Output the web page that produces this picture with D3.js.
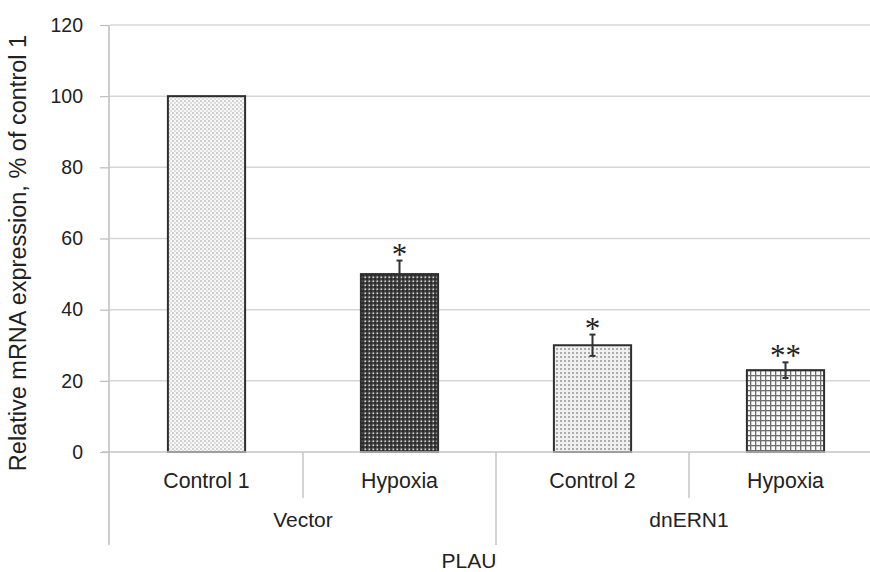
<!DOCTYPE html>
<html>
<head>
<meta charset="utf-8">
<script src="https://cdn.jsdelivr.net/npm/d3@7"></script>
<style>
  body { margin: 0; background: #fff; }
  svg { display: block; font-family: "Liberation Sans", Arial, sans-serif; }
</style>
</head>
<body>
<svg id="chart" width="870" height="572"></svg>
<script>
// data
const categories = ['Control 1', 'Hypoxia', 'Control 2', 'Hypoxia'];
const groups = ['Vector', 'dnERN1'];
const values = [100, 50, 30, 23];
const errors = [0, 3.8, 3, 2.2];
const marks = ['', '*', '*', '**'];
const yTicks = [0, 20, 40, 60, 80, 100, 120];

const svg = d3.select('#chart');

// plot frame (right end runs past the window, as in the original)
const plotLeft = 110, plotRight = 882, plotTop = 25, plotBottom = 452;

const y = d3.scaleLinear().domain([0, 120]).range([plotBottom, plotTop]);
const x = d3.scaleBand()
    .domain(d3.range(categories.length))
    .range([plotLeft, plotRight])
    .paddingInner(0.6)
    .paddingOuter(0.3);
const edge = d3.scaleLinear().domain([0, categories.length]).range([plotLeft, plotRight]);

// fill patterns
const defs = svg.append('defs');

let p = defs.append('pattern').attr('id', 'pat0')
    .attr('width', 4).attr('height', 4).attr('patternUnits', 'userSpaceOnUse');
p.append('rect').attr('width', 4).attr('height', 4).attr('fill', '#f7f7f7');
p.append('rect').attr('width', 2).attr('height', 2).attr('fill', '#cfcfcf');
p.append('rect').attr('x', 2).attr('y', 2).attr('width', 2).attr('height', 2).attr('fill', '#dedede');

p = defs.append('pattern').attr('id', 'pat1')
    .attr('width', 4).attr('height', 4).attr('patternUnits', 'userSpaceOnUse');
p.append('rect').attr('width', 4).attr('height', 4).attr('fill', '#3e3e3e');
p.append('rect').attr('x', 0.5).attr('y', 0.5).attr('width', 1.6).attr('height', 1.6).attr('fill', '#d8d8d8');
p.append('rect').attr('x', 2).attr('y', 2).attr('width', 2).attr('height', 2).attr('fill', '#2a2a2a');

p = defs.append('pattern').attr('id', 'pat2')
    .attr('width', 4).attr('height', 4).attr('patternUnits', 'userSpaceOnUse');
p.append('rect').attr('width', 4).attr('height', 4).attr('fill', '#f0f0f0');
p.append('rect').attr('width', 2).attr('height', 2).attr('fill', '#ababab');

p = defs.append('pattern').attr('id', 'pat3')
    .attr('width', 5).attr('height', 5).attr('patternUnits', 'userSpaceOnUse');
p.append('rect').attr('width', 5).attr('height', 5).attr('fill', '#fafafa');
p.append('rect').attr('width', 5).attr('height', 1.3).attr('fill', '#6e6e6e');
p.append('rect').attr('width', 1.3).attr('height', 5).attr('fill', '#6e6e6e');

// gridlines
svg.append('g')
    .selectAll('line')
    .data(yTicks.filter(d => d > 0))
    .join('line')
    .attr('x1', plotLeft).attr('x2', plotRight)
    .attr('y1', d => y(d)).attr('y2', d => y(d))
    .attr('stroke', '#d6d6d6')
    .attr('stroke-width', 1.5);

// y axis
const yAxis = svg.append('g')
    .attr('transform', `translate(${plotLeft - 1},0)`)
    .call(d3.axisLeft(y).tickValues(yTicks).tickSize(9).tickPadding(17));
yAxis.select('.domain').remove();
yAxis.selectAll('.tick line').attr('stroke', '#bdbdbd').attr('stroke-width', 1.2);
yAxis.selectAll('.tick text')
    .attr('fill', '#222')
    .style('font-size', '19.5px')
    .style('font-family', '"Liberation Sans", Arial, sans-serif');

svg.append('line')
    .attr('x1', plotLeft - 1).attr('x2', plotLeft - 1)
    .attr('y1', y(120)).attr('y2', 545)
    .attr('stroke', '#bdbdbd').attr('stroke-width', 1.5);

// bars
svg.append('g')
    .selectAll('rect')
    .data(values)
    .join('rect')
    .attr('x', (d, i) => x(i))
    .attr('y', d => y(d))
    .attr('width', x.bandwidth())
    .attr('height', d => y(0) - y(d))
    .attr('fill', (d, i) => `url(#pat${i})`)
    .attr('stroke', '#2e2e2e')
    .attr('stroke-width', 2);

// x axis line and category separators
svg.append('line')
    .attr('x1', plotLeft - 8).attr('x2', plotRight)
    .attr('y1', y(0)).attr('y2', y(0))
    .attr('stroke', '#c4c4c4').attr('stroke-width', 1.5);

svg.append('g')
    .selectAll('line')
    .data(d3.range(1, categories.length))
    .join('line')
    .attr('x1', d => edge(d)).attr('x2', d => edge(d))
    .attr('y1', y(0))
    .attr('y2', d => d % 2 === 0 ? 545 : 498)
    .attr('stroke', '#c4c4c4').attr('stroke-width', 1.5);

// error bars
const eb = svg.append('g')
    .selectAll('g')
    .data(values.map((v, i) => ({ v, e: errors[i], i })).filter(d => d.e > 0))
    .join('g')
    .attr('stroke', '#333').attr('stroke-width', 2);
eb.append('line')
    .attr('x1', d => x(d.i) + x.bandwidth() / 2).attr('x2', d => x(d.i) + x.bandwidth() / 2)
    .attr('y1', d => y(d.v + d.e)).attr('y2', d => y(d.v - d.e));
eb.append('line')
    .attr('x1', d => x(d.i) + x.bandwidth() / 2 - 3).attr('x2', d => x(d.i) + x.bandwidth() / 2 + 3)
    .attr('y1', d => y(d.v + d.e)).attr('y2', d => y(d.v + d.e));
eb.append('line')
    .attr('x1', d => x(d.i) + x.bandwidth() / 2 - 3).attr('x2', d => x(d.i) + x.bandwidth() / 2 + 3)
    .attr('y1', d => y(d.v - d.e)).attr('y2', d => y(d.v - d.e));

// significance marks
svg.append('g')
    .selectAll('text')
    .data(values.map((v, i) => ({ v, e: errors[i], m: marks[i], i })).filter(d => d.m))
    .join('text')
    .attr('x', d => x(d.i) + x.bandwidth() / 2)
    .attr('y', d => y(d.v + d.e) + 4)
    .attr('text-anchor', 'middle')
    .attr('fill', '#222')
    .style('font-size', '31px')
    .style('font-family', '"Liberation Serif", serif')
    .text(d => d.m);

// category labels
svg.append('g')
    .selectAll('text')
    .data(categories)
    .join('text')
    .attr('x', (d, i) => x(i) + x.bandwidth() / 2)
    .attr('y', 488)
    .attr('text-anchor', 'middle')
    .attr('fill', '#222')
    .style('font-size', '21.3px')
    .text(d => d);

// group labels
svg.append('g')
    .selectAll('text')
    .data(groups)
    .join('text')
    .attr('x', (d, g) => (edge(g * 2) + edge(g * 2 + 2)) / 2)
    .attr('y', 527)
    .attr('text-anchor', 'middle')
    .attr('fill', '#222')
    .style('font-size', '21px')
    .text(d => d);

// axis titles
svg.append('text')
    .attr('x', 469).attr('y', 568)
    .attr('text-anchor', 'middle')
    .attr('fill', '#222')
    .style('font-size', '21px')
    .text('PLAU');

svg.append('text')
    .attr('transform', 'translate(26,253) rotate(-90)')
    .attr('text-anchor', 'middle')
    .attr('fill', '#222')
    .style('font-size', '23.5px')
    .text('Relative mRNA expression, % of control 1');
</script>
</body>
</html>
